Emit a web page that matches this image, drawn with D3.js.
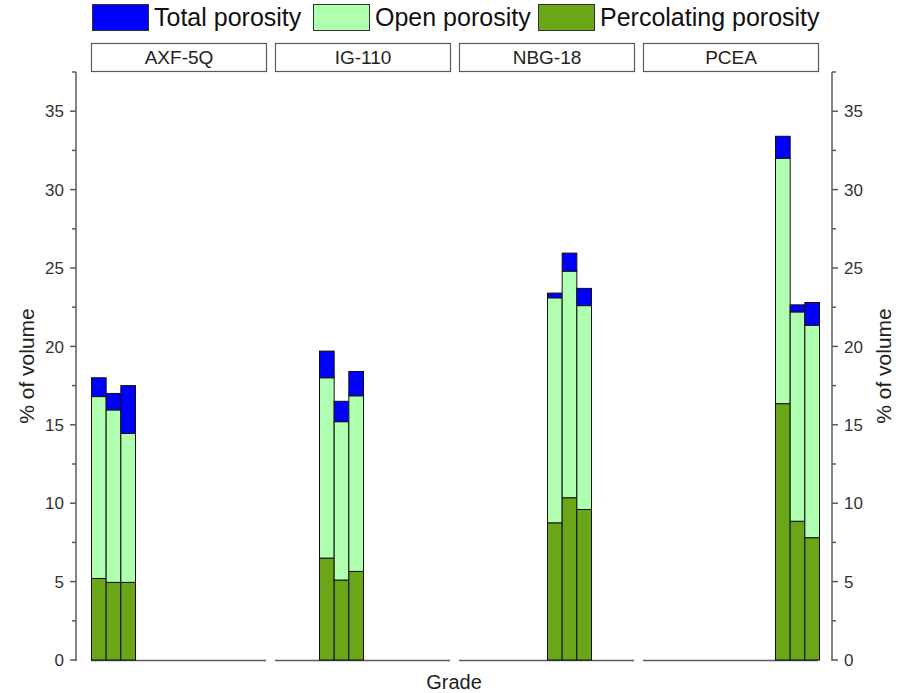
<!DOCTYPE html>
<html>
<head>
<meta charset="utf-8">
<script src="https://cdn.jsdelivr.net/npm/d3@7"></script>
<style>
  html, body { margin: 0; padding: 0; background: #fff; }
  svg { display: block; font-family: Arial, "Liberation Sans", sans-serif; }
</style>
</head>
<body>
<svg id="chart" width="899" height="693"></svg>
<script>
// Porosity (% of volume) for three samples of each graphite grade
const grades = ["AXF-5Q", "IG-110", "NBG-18", "PCEA"];
const samples = ["s1", "s2", "s3"];
const totalPorosity = [
  [18.0, 17.0, 17.5],
  [19.7, 16.5, 18.4],
  [23.4, 25.95, 23.7],
  [33.4, 22.65, 22.8]
];
const openPorosity = [
  [16.8, 15.95, 14.45],
  [18.0, 15.2, 16.85],
  [23.1, 24.8, 22.6],
  [32.0, 22.2, 21.35]
];
const percolatingPorosity = [
  [5.2, 4.95, 4.95],
  [6.5, 5.1, 5.65],
  [8.75, 10.35, 9.6],
  [16.35, 8.85, 7.8]
];
const seriesNames = ["Total porosity", "Open porosity", "Percolating porosity"];
const yMajorTicks = [0, 5, 10, 15, 20, 25, 30, 35];
const yMinorTicks = [2.5, 7.5, 12.5, 17.5, 22.5, 27.5, 32.5, 37.5];

const colors = { "Total porosity": "#0000ff", "Open porosity": "#b0ffb0", "Percolating porosity": "#6ba619" };
const axisColor = "#5a5a5a";
const textColor = "#222";

const svg = d3.select("#chart");

const yTop = 72, yBottom = 660;
const y = d3.scaleLinear().domain([0, 37.5]).range([yBottom, yTop]);

const leftAxisX = 76, rightAxisX = 832;
const panelStarts = [91, 275, 459, 643];
const panelWidth = 176;

// Panels: one per grade, each sharing the same grade band layout
grades.forEach((grade, gi) => {
  const x0 = panelStarts[gi];
  const x = d3.scaleBand().domain(grades).range([x0, x0 + panelWidth]).padding(0);
  const xs = d3.scaleBand().domain(samples).range([0, x.bandwidth()]).padding(0);
  const g = svg.append("g");

  // baseline of the panel
  g.append("line")
    .attr("x1", x0).attr("x2", x0 + panelWidth - 1)
    .attr("y1", yBottom + 0.5).attr("y2", yBottom + 0.5)
    .attr("stroke", axisColor).attr("stroke-width", 1.5);

  // header box
  const hg = svg.append("g");
  hg.append("rect")
    .attr("x", x0 + 0.5).attr("y", 43.5)
    .attr("width", panelWidth - 1).attr("height", 28)
    .attr("fill", "#fff").attr("stroke", axisColor).attr("stroke-width", 1.2);
  hg.append("text")
    .attr("x", x0 + panelWidth / 2).attr("y", 64)
    .attr("text-anchor", "middle")
    .attr("font-size", 19).attr("fill", textColor)
    .text(grade);

  // stacked bars
  samples.forEach((s, si) => {
    const bx = x(grade) + xs(s);
    const segs = [
      { name: "Percolating porosity", lo: 0, hi: percolatingPorosity[gi][si] },
      { name: "Open porosity", lo: percolatingPorosity[gi][si], hi: openPorosity[gi][si] },
      { name: "Total porosity", lo: openPorosity[gi][si], hi: totalPorosity[gi][si] }
    ];
    g.selectAll(null).data(segs).enter().append("rect")
      .attr("x", bx + 0.5)
      .attr("y", d => y(d.hi))
      .attr("width", xs.bandwidth())
      .attr("height", d => y(d.lo) - y(d.hi))
      .attr("fill", d => colors[d.name])
      .attr("stroke", "#111").attr("stroke-width", 1);
  });
});

// Left and right y axes
function drawYAxis(xPos, side) {
  const g = svg.append("g").attr("transform", `translate(${xPos},0)`);
  const dir = side === "left" ? -1 : 1;
  g.append("line").attr("x1", 0).attr("x2", 0).attr("y1", yTop).attr("y2", yBottom + 1)
    .attr("stroke", axisColor).attr("stroke-width", 1.5);
  g.selectAll(".maj").data(yMajorTicks).enter().append("line")
    .attr("x1", 0).attr("x2", dir * 6)
    .attr("y1", d => y(d)).attr("y2", d => y(d))
    .attr("stroke", axisColor).attr("stroke-width", 1.5);
  g.selectAll(".min").data(yMinorTicks).enter().append("line")
    .attr("x1", 0).attr("x2", dir * 4)
    .attr("y1", d => y(d)).attr("y2", d => y(d))
    .attr("stroke", axisColor).attr("stroke-width", 1.5);
  g.selectAll(".lbl").data(yMajorTicks).enter().append("text")
    .attr("x", dir * 12)
    .attr("y", d => y(d))
    .attr("dy", "0.36em")
    .attr("text-anchor", side === "left" ? "end" : "start")
    .attr("font-size", 17).attr("fill", "#333")
    .text(d => d);
}
drawYAxis(leftAxisX, "left");
drawYAxis(rightAxisX, "right");

// Axis titles
svg.append("text")
  .attr("transform", `translate(34,${(yTop + yBottom) / 2}) rotate(-90)`)
  .attr("text-anchor", "middle").attr("font-size", 21).attr("fill", textColor)
  .text("% of volume");
svg.append("text")
  .attr("transform", `translate(891,${(yTop + yBottom) / 2}) rotate(-90)`)
  .attr("text-anchor", "middle").attr("font-size", 21).attr("fill", textColor)
  .text("% of volume");
svg.append("text")
  .attr("x", 454).attr("y", 689)
  .attr("text-anchor", "middle").attr("font-size", 20).attr("fill", textColor)
  .text("Grade");

// Legend
const legendX = [92, 313, 538];
const legend = svg.append("g");
seriesNames.forEach((name, i) => {
  legend.append("rect")
    .attr("x", legendX[i] + 0.5).attr("y", 4.5)
    .attr("width", 56).attr("height", 26)
    .attr("fill", colors[name]).attr("stroke", "#333").attr("stroke-width", 1);
  legend.append("text")
    .attr("x", legendX[i] + 62).attr("y", 26)
    .attr("font-size", 25).attr("fill", "#111")
    .text(name);
});
</script>
</body>
</html>
